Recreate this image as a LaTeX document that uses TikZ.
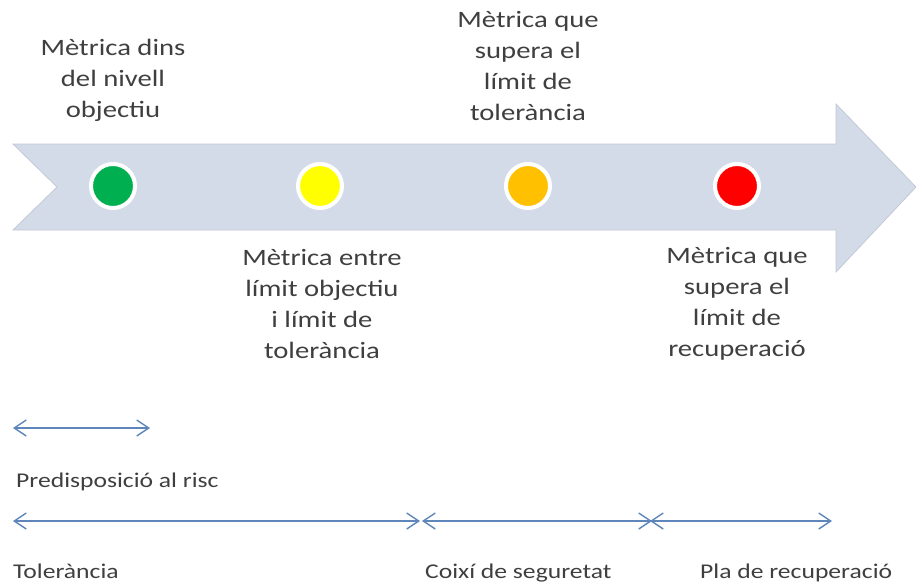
\documentclass[tikz,border=0pt]{standalone}
\usepackage{fontspec}
\setmainfont{Carlito}[FakeStretch=1.22]
\usetikzlibrary{arrows.meta}
\definecolor{bandfill}{HTML}{D3DAE8}
\definecolor{bandedge}{HTML}{C3CAD6}
\definecolor{txt}{HTML}{3F3F3F}
\definecolor{arr}{HTML}{5E86BA}
\definecolor{cgreen}{HTML}{00B050}
\definecolor{cyellow}{HTML}{FFFF00}
\definecolor{corange}{HTML}{FFC000}
\definecolor{cred}{HTML}{FF0000}
\tikzset{
  lamp/.style={circle, draw=white, line width=4pt, minimum size=44pt, inner sep=0pt},
  bigtxt/.style={text=txt, align=center, inner sep=0pt, font=\fontsize{23.5}{31}\selectfont},
  smalltxt/.style={text=txt, anchor=base west, inner sep=0pt, font=\fontsize{21}{25}\selectfont},
  span/.style={draw=arr, line width=1.4pt, {Straight Barb[length=12pt,width=16pt]}-{Straight Barb[length=12pt,width=16pt]}}
}
\begin{document}
\begin{tikzpicture}[x=1pt,y=-1pt]
\useasboundingbox (0,0) rectangle (916,584);
% big arrow band
\filldraw[fill=bandfill, draw=bandedge, line width=0.8pt]
  (13,144) -- (836,144) -- (836,104) -- (916,187) -- (836,272) -- (836,230)
  -- (13,230) -- (57,187) -- cycle;
% lamps
\node[lamp, fill=cgreen]  (g) at (113,186) {};
\node[lamp, fill=cyellow] (y) at (320,186) {};
\node[lamp, fill=corange] (o) at (528,186) {};
\node[lamp, fill=cred]    (r) at (737,186) {};
% texts
\node[bigtxt] (tg) at (113,80) {Mètrica dins\\del nivell\\objectiu};
\node[bigtxt] (to) at (528,66) {Mètrica que\\supera el\\límit de\\tolerància};
\node[bigtxt] (ty) at (322,304) {Mètrica entre\\límit objectiu\\i límit de\\tolerància};
\node[bigtxt] (tr) at (737,304) {Mètrica que\\supera el\\límit de\\recuperació};
% spans
\coordinate (a0) at (13,428);
\coordinate (a1) at (150,428);
\coordinate (b0) at (13,521);
\coordinate (b1) at (420,521);
\coordinate (b2) at (422,521);
\coordinate (b3) at (652,521);
\coordinate (b4) at (650,521);
\coordinate (b5) at (832,521);
\draw[span] (a0) -- (a1);
\draw[span] (b0) -- (b1);
\draw[span] (b2) -- (b3);
\draw[span] (b4) -- (b5);
\node[smalltxt] (lp) at (16,487) {Predisposició al risc};
\node[smalltxt] (lt) at (13,578) {Tolerància};
\node[smalltxt] (lc) at (425,578) {Coixí de seguretat};
\node[smalltxt] (lr) at (700,578) {Pla de recuperació};
\end{tikzpicture}
\end{document}
